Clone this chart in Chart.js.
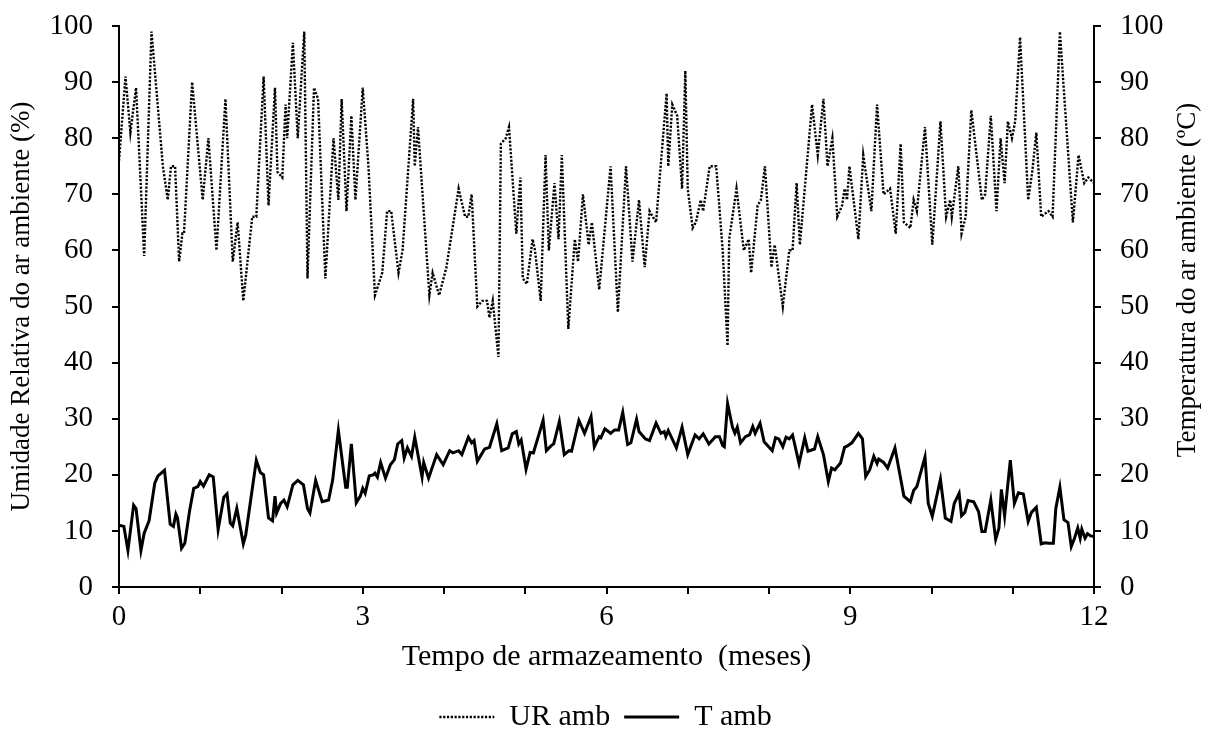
<!DOCTYPE html>
<html>
<head>
<meta charset="utf-8">
<script src="https://cdn.jsdelivr.net/npm/chart.js@4.4.1/dist/chart.umd.min.js"></script>
<style>
  html, body { margin: 0; padding: 0; background: #fff; }
</style>
</head>
<body>
<canvas id="chart" width="1211" height="734"></canvas>
<script>
// Umidade relativa (UR amb): tempo em meses / valor em %
const urTempo = [0, 0.08, 0.14, 0.21, 0.31, 0.40, 0.54, 0.60, 0.64, 0.69,
  0.74, 0.78, 0.80, 0.90, 1.03, 1.10, 1.20, 1.31, 1.40, 1.46,
  1.53, 1.64, 1.69, 1.78, 1.84, 1.92, 1.95, 2.01, 2.05, 2.07,
  2.14, 2.20, 2.28, 2.32, 2.40, 2.45, 2.54, 2.64, 2.70, 2.74,
  2.80, 2.86, 2.91, 3.00, 3.07, 3.15, 3.24, 3.30, 3.35, 3.44,
  3.49, 3.62, 3.64, 3.68, 3.82, 3.86, 3.94, 4.03, 4.18, 4.26,
  4.30, 4.34, 4.41, 4.47, 4.53, 4.56, 4.60, 4.67, 4.70, 4.76,
  4.80, 4.89, 4.94, 4.97, 5.02, 5.09, 5.12, 5.19, 5.25, 5.29,
  5.36, 5.41, 5.45, 5.53, 5.61, 5.65, 5.71, 5.78, 5.82, 5.91,
  6.05, 6.14, 6.24, 6.32, 6.40, 6.47, 6.53, 6.61, 6.74, 6.76,
  6.81, 6.87, 6.93, 6.97, 7.00, 7.06, 7.10, 7.16, 7.19, 7.27,
  7.35, 7.43, 7.49, 7.51, 7.60, 7.69, 7.75, 7.78, 7.86, 7.90,
  7.95, 8.03, 8.07, 8.17, 8.25, 8.29, 8.34, 8.38, 8.53, 8.60,
  8.67, 8.72, 8.78, 8.84, 8.90, 8.93, 8.96, 8.99, 9.10, 9.16,
  9.26, 9.33, 9.41, 9.49, 9.56, 9.62, 9.66, 9.74, 9.78, 9.82,
  9.92, 10.01, 10.11, 10.18, 10.23, 10.25, 10.33, 10.37, 10.42, 10.49,
  10.62, 10.66, 10.73, 10.80, 10.85, 10.90, 10.94, 10.99, 11.03, 11.09,
  11.19, 11.24, 11.29, 11.35, 11.44, 11.49, 11.58, 11.66, 11.74, 11.81,
  11.88, 11.93, 12.00];
const urAmb = [76, 91, 81, 89, 59, 99, 75, 69, 75, 75,
  58, 63, 63, 90, 69, 80, 60, 87, 58, 65,
  51, 66, 66, 91, 68, 89, 74, 73, 86, 80,
  97, 80, 99, 55, 89, 87, 55, 80, 69, 87,
  67, 84, 69, 89, 75, 52, 56, 67, 67, 56,
  60, 87, 75, 82, 52, 56, 52, 57, 71, 66,
  66, 70, 50, 51, 51, 48, 51, 41, 79, 80,
  82, 63, 73, 55, 54, 62, 60, 51, 77, 60,
  72, 62, 77, 46, 62, 58, 70, 61, 65, 53,
  75, 49, 75, 58, 69, 57, 67, 65, 88, 75,
  86, 84, 71, 92, 71, 64, 65, 69, 67, 75,
  75, 60, 43, 62, 71, 60, 62, 56, 68, 69,
  75, 57, 61, 50, 60, 60, 72, 61, 86, 77,
  87, 75, 80, 66, 68, 71, 69, 75, 62, 77,
  67, 86, 70, 71, 63, 79, 65, 64, 69, 67,
  82, 61, 83, 66, 69, 66, 75, 63, 66, 85,
  69, 70, 84, 67, 80, 72, 83, 80, 83, 98,
  69, 74, 81, 66, 67, 66, 99, 82, 65, 77,
  72, 73, 72];

// Temperatura (T amb): tempo em meses / valor em ºC
const tTempo = [0, 0.06, 0.11, 0.18, 0.21, 0.27, 0.31, 0.37, 0.44, 0.48,
  0.56, 0.63, 0.67, 0.70, 0.72, 0.77, 0.81, 0.87, 0.92, 0.97,
  1.00, 1.04, 1.11, 1.16, 1.22, 1.29, 1.33, 1.37, 1.40, 1.45,
  1.53, 1.56, 1.69, 1.74, 1.78, 1.84, 1.89, 1.92, 1.94, 1.99,
  2.03, 2.07, 2.14, 2.20, 2.27, 2.32, 2.35, 2.42, 2.50, 2.58,
  2.63, 2.70, 2.79, 2.81, 2.86, 2.92, 2.97, 3.00, 3.03, 3.08,
  3.13, 3.15, 3.18, 3.22, 3.28, 3.34, 3.39, 3.43, 3.48, 3.51,
  3.55, 3.60, 3.64, 3.73, 3.75, 3.81, 3.91, 3.99, 4.07, 4.11,
  4.18, 4.22, 4.30, 4.34, 4.37, 4.41, 4.50, 4.56, 4.65, 4.71,
  4.79, 4.84, 4.89, 4.92, 4.95, 5.01, 5.06, 5.10, 5.22, 5.26,
  5.32, 5.35, 5.42, 5.48, 5.54, 5.57, 5.66, 5.73, 5.81, 5.85,
  5.91, 5.93, 5.98, 6.05, 6.10, 6.15, 6.20, 6.26, 6.30, 6.37,
  6.40, 6.48, 6.53, 6.61, 6.67, 6.71, 6.73, 6.76, 6.86, 6.93,
  7.00, 7.09, 7.14, 7.19, 7.26, 7.34, 7.39, 7.43, 7.45, 7.49,
  7.55, 7.58, 7.61, 7.65, 7.71, 7.76, 7.80, 7.83, 7.89, 7.94,
  8.04, 8.08, 8.12, 8.17, 8.21, 8.25, 8.29, 8.37, 8.44, 8.48,
  8.56, 8.60, 8.67, 8.73, 8.77, 8.81, 8.88, 8.93, 8.97, 9.02,
  9.10, 9.15, 9.19, 9.24, 9.29, 9.33, 9.35, 9.41, 9.46, 9.55,
  9.60, 9.66, 9.74, 9.78, 9.82, 9.92, 9.96, 10.01, 10.11, 10.17,
  10.24, 10.28, 10.34, 10.37, 10.41, 10.45, 10.52, 10.58, 10.62, 10.66,
  10.73, 10.79, 10.83, 10.86, 10.90, 10.97, 11.02, 11.07, 11.13, 11.19,
  11.23, 11.29, 11.35, 11.40, 11.44, 11.50, 11.53, 11.58, 11.63, 11.68,
  11.72, 11.76, 11.80, 11.83, 11.85, 11.89, 11.92, 11.96, 12.00];
const tAmb = [11, 10.8, 6.5, 14.6, 14, 6.5, 9.6, 11.8, 18.5, 19.8,
  20.8, 11.2, 10.8, 13, 12.3, 6.9, 7.8, 13.7, 17.6, 17.9,
  18.8, 18, 20, 19.6, 10.2, 16, 16.6, 11.4, 10.9, 14,
  7.7, 9.3, 22.6, 20.4, 20, 12.3, 11.8, 16.2, 13.2, 14.9,
  15.5, 14.3, 18.2, 19, 18.2, 14, 13.2, 19, 15.2, 15.5,
  19.1, 27.9, 17.8, 17.8, 25.5, 15, 16.2, 17.6, 16.7, 19.8,
  20, 20.3, 19.6, 22.2, 19.4, 21.8, 22.7, 25.5, 26.1, 23,
  24.8, 23.3, 26.7, 19.6, 22.2, 19.4, 23.6, 21.8, 24.3, 23.9,
  24.3, 23.6, 26.7, 25.7, 26.1, 22.4, 24.6, 24.9, 29.1, 24.3,
  24.8, 27.3, 27.7, 25.5, 26.2, 21, 24, 23.9, 29.7, 24.3,
  25.2, 25.5, 29.5, 23.6, 24.3, 24.2, 29.7, 27.4, 30.4, 25,
  26.8, 26.6, 28.2, 27.4, 28, 28, 31.1, 25.4, 25.7, 29.9,
  27.7, 26.4, 26.1, 29.2, 27.4, 27.7, 26.8, 27.9, 24.8, 28.5,
  23.6, 27.1, 26.4, 27.3, 25.5, 26.8, 26.8, 25.2, 25, 32.7,
  28.5, 27.4, 28.5, 25.7, 26.8, 27.1, 28.6, 27.4, 29.2, 25.9,
  24.3, 26.6, 26.4, 25, 26.7, 26.4, 27.1, 22, 26.6, 24.2,
  24.6, 26.8, 23.6, 18.8, 21.2, 20.9, 22.1, 24.9, 25.2, 25.7,
  27.4, 26.4, 19.7, 20.9, 23.3, 22, 22.8, 22.2, 21.2, 24.8,
  20.9, 16.2, 15.2, 17.2, 17.9, 23.2, 14.9, 12.6, 19.2, 12.3,
  11.7, 14.9, 16.7, 12.7, 13.3, 15.4, 15.2, 13.4, 9.9, 9.9,
  15.5, 8.5, 10.5, 17.4, 12.7, 22.6, 14.9, 16.8, 16.6, 11.7,
  13.3, 14.2, 7.7, 7.9, 7.8, 7.8, 14, 17.8, 12, 11.5,
  7.2, 8.7, 10.5, 8.7, 10.3, 8.7, 9.5, 9.1, 9];

const mesesRotulados = [0, 3, 6, 9, 12];

const serif = "'Liberation Serif', 'Times New Roman', serif";

// titulo do eixo direito, lido de baixo para cima como o da esquerda
const rightTitle = {
  id: "rightTitle",
  afterDraw(chart) {
    const ctx = chart.ctx;
    ctx.save();
    ctx.font = "27px " + serif;
    ctx.fillStyle = "#000";
    ctx.textAlign = "center";
    ctx.textBaseline = "middle";
    ctx.translate(chart.chartArea.right + 94, 280);
    ctx.rotate(-Math.PI / 2);
    ctx.fillText("Temperatura do ar ambiente (ºC)", 0, 0);
    ctx.restore();
  }
};

const axisGrid = {
  drawOnChartArea: false,
  drawTicks: true,
  tickLength: 7,
  color: "#000",
  lineWidth: 2
};
const axisBorder = { display: true, color: "#000", width: 2 };

// largura fixa dos eixos verticais, sem folga extra no topo
function fixY(width) {
  return (scale) => {
    scale.width = width;
    scale.paddingTop = 0;
  };
}

const ctx = document.getElementById("chart").getContext("2d");
new Chart(ctx, {
  type: "line",
  data: {
    datasets: [
      {
        label: "UR amb",
        data: urTempo.map((m, i) => ({ x: m, y: urAmb[i] })),
        borderColor: "#000",
        backgroundColor: "#000",
        borderWidth: 2.4,
        borderDash: [2.2, 1.6],
        pointRadius: 0,
        tension: 0,
        yAxisID: "y"
      },
      {
        label: "T amb",
        data: tTempo.map((m, i) => ({ x: m, y: tAmb[i] })),
        borderColor: "#000",
        backgroundColor: "#000",
        borderWidth: 3,
        pointRadius: 0,
        tension: 0,
        yAxisID: "y2"
      }
    ]
  },
  options: {
    responsive: false,
    animation: false,
    layout: { padding: { top: 26, left: 0, right: 0, bottom: -8 } },
    plugins: {
      tooltip: { enabled: false },
      legend: {
        display: true,
        position: "bottom",
        labels: {
          color: "#000",
          font: { family: serif, size: 30 },
          usePointStyle: true,
          pointStyle: "line",
          pointStyleWidth: 55,
          padding: 14,
          generateLabels(chart) {
            const items = Chart.defaults.plugins.legend.labels.generateLabels(chart);
            return items.map((item) => {
              const ds = chart.data.datasets[item.datasetIndex];
              item.lineWidth = ds.borderWidth;
              item.lineDash = ds.borderDash || [];
              item.strokeStyle = "#000";
              return item;
            });
          }
        }
      }
    },
    scales: {
      x: {
        type: "linear",
        min: 0,
        max: 12,
        afterFit(scale) { scale.height = 101; },
        grid: axisGrid,
        border: axisBorder,
        ticks: {
          stepSize: 1,
          autoSkip: false,
          maxRotation: 0,
          padding: 6,
          color: "#000",
          font: { family: serif, size: 29 },
          callback: (v) => (mesesRotulados.includes(v) ? String(v) : "")
        },
        title: {
          display: true,
          text: "Tempo de armazeamento  (meses)",
          color: "#000",
          font: { family: serif, size: 30 },
          padding: { top: 0, bottom: 13 }
        }
      },
      y: {
        position: "left",
        min: 0,
        max: 100,
        afterFit: fixY(119),
        grid: axisGrid,
        border: axisBorder,
        ticks: {
          stepSize: 10,
          padding: 19,
          color: "#000",
          font: { family: serif, size: 29 }
        },
        title: {
          display: true,
          text: "Umidade Relativa do ar ambiente (%)",
          color: "#000",
          font: { family: serif, size: 27 },
          padding: { top: 6, bottom: 0 }
        }
      },
      y2: {
        position: "right",
        min: 0,
        max: 100,
        afterFit: fixY(117),
        grid: axisGrid,
        border: axisBorder,
        ticks: {
          stepSize: 10,
          padding: 19,
          color: "#000",
          font: { family: serif, size: 29 }
        }
      }
    }
  },
  plugins: [rightTitle]
});
</script>
</body>
</html>
